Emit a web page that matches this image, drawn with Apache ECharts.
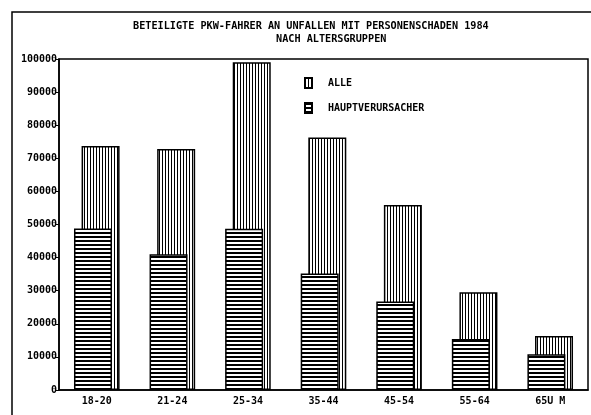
<!DOCTYPE html>
<html>
<head>
<meta charset="utf-8">
<script src="https://cdn.jsdelivr.net/npm/echarts@6/dist/echarts.min.js"></script>
<style>
  html, body { margin: 0; padding: 0; background: #fff; }
  #chart { width: 591px; height: 415px; }
</style>
</head>
<body>
<div id="chart"></div>
<script>
// Altersgruppen und Werte
const categories = ['18-20', '21-24', '25-34', '35-44', '45-54', '55-64', '65U M']
const alle = [73700, 72800, 99000, 76300, 55900, 29500, 16300]
const hauptverursacher = [48800, 41000, 48700, 35200, 26700, 15400, 10800]
const yTicks = { min: 0, max: 100000, interval: 10000 }

// Schraffur als Canvas-Muster
function hatch (vertical) {
  const c = document.createElement('canvas')
  c.width = vertical ? 3 : 1
  c.height = vertical ? 1 : 4
  const ctx = c.getContext('2d')
  ctx.fillStyle = '#fff'
  ctx.fillRect(0, 0, c.width, c.height)
  ctx.fillStyle = '#000'
  if (vertical) ctx.fillRect(0, 0, 1, 1)
  else ctx.fillRect(0, 0, 1, 2)
  return { image: c, repeat: 'repeat' }
}

const font = 'DejaVu Sans Mono'
const chart = echarts.init(document.getElementById('chart'))

chart.setOption({
  backgroundColor: '#fff',
  animation: false,
  title: [
    {
      text: 'BETEILIGTE PKW-FAHRER AN UNFALLEN MIT PERSONENSCHADEN 1984',
      left: 133,
      top: 21,
      padding: 0,
      textStyle: { fontFamily: font, fontWeight: 'bold', fontSize: 10.2, color: '#000' }
    },
    {
      text: 'NACH ALTERSGRUPPEN',
      left: 276,
      top: 34,
      padding: 0,
      textStyle: { fontFamily: font, fontWeight: 'bold', fontSize: 10.2, color: '#000' }
    }
  ],
  legend: {
    data: ['ALLE', 'HAUPTVERURSACHER'],
    orient: 'vertical',
    icon: 'rect',
    left: 304,
    top: 77,
    padding: 0,
    itemWidth: 7,
    itemHeight: 10,
    itemGap: 13,
    textStyle: {
      fontFamily: font,
      fontWeight: 'bold',
      fontSize: 10,
      color: '#000',
      padding: [0, 0, 0, 11]
    }
  },
  graphic: [
    {
      type: 'rect',
      silent: true,
      shape: { x: 12, y: 12, width: 620, height: 440 },
      style: { fill: 'none', stroke: '#000', lineWidth: 1.5 }
    }
  ],
  grid: {
    show: true,
    left: 59,
    right: 3,
    top: 59,
    bottom: 25,
    borderColor: '#000',
    borderWidth: 1.5,
    backgroundColor: 'transparent'
  },
  xAxis: {
    type: 'category',
    data: categories,
    axisLine: { lineStyle: { color: '#000', width: 1.5 } },
    axisTick: { alignWithLabel: true, length: 3, lineStyle: { color: '#000' } },
    axisLabel: {
      margin: 6,
      fontFamily: font,
      fontWeight: 'bold',
      fontSize: 10,
      color: '#000'
    }
  },
  yAxis: {
    type: 'value',
    min: yTicks.min,
    max: yTicks.max,
    interval: yTicks.interval,
    axisLine: { show: true, lineStyle: { color: '#000', width: 1.5 } },
    axisTick: { show: true, length: 4, lineStyle: { color: '#000' } },
    splitLine: { show: false },
    axisLabel: {
      margin: 2,
      fontFamily: font,
      fontWeight: 'bold',
      fontSize: 10,
      color: '#000',
      formatter: v => String(v)
    }
  },
  series: [
    {
      name: 'HAUPTVERURSACHER',
      type: 'bar',
      data: hauptverursacher,
      barWidth: 38,
      barGap: '-80%',
      z: 3,
      itemStyle: { color: hatch(false), borderColor: '#000', borderWidth: 1.5 }
    },
    {
      name: 'ALLE',
      type: 'bar',
      data: alle,
      barWidth: 38,
      z: 2,
      itemStyle: { color: hatch(true), borderColor: '#000', borderWidth: 1.5 }
    }
  ]
})
</script>
</body>
</html>
